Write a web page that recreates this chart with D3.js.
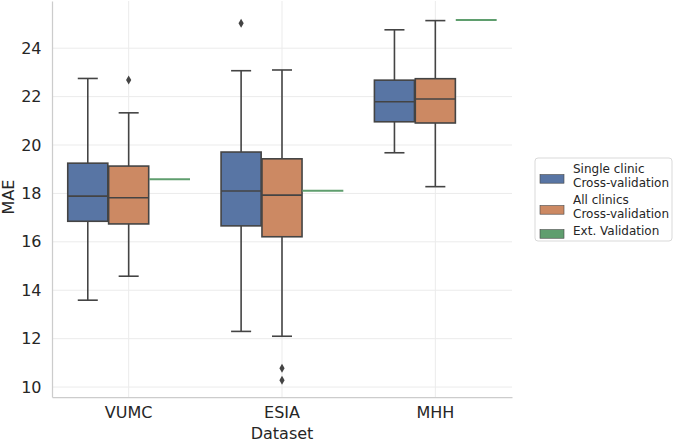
<!DOCTYPE html>
<html>
<head>
<meta charset="utf-8">
<script src="https://cdn.jsdelivr.net/npm/d3@7"></script>
<style>
  body { margin: 0; background: #fff; }
  svg { font-family: "DejaVu Sans", sans-serif; }
</style>
</head>
<body>
<svg id="chart" width="677" height="443"></svg>
<script>
// Data
const datasets = ["VUMC", "ESIA", "MHH"];
const seriesNames = ["Single clinic\nCross-validation", "All clinics\nCross-validation", "Ext. Validation"];
// [lower whisker, Q1, median, Q3, upper whisker]
const singleStats = [[13.59, 16.85, 17.89, 19.25, 22.75], [12.30, 16.66, 18.10, 19.71, 23.07], [19.68, 20.96, 21.79, 22.68, 24.76]];
const singleOutliers = [[], [25.03], []];
const allStats = [[14.58, 16.74, 17.82, 19.13, 21.33], [12.10, 16.21, 17.93, 19.43, 23.10], [18.28, 20.91, 21.90, 22.74, 25.14]];
const allOutliers = [[22.69], [10.78, 10.28], []];
const extValues = [18.59, 18.11, 25.17];
const yTicks = [10, 12, 14, 16, 18, 20, 22, 24];

const colors = ["#5875a4", "#cc8963", "#5f9e6e"];
const edge = "#444444";

const margin = {top: 1, right: 165, bottom: 46, left: 52};
const width = 677 - margin.left - margin.right;
const height = 443 - margin.top - margin.bottom;

const svg = d3.select("#chart")
    .append("g")
    .attr("transform", `translate(${margin.left},${margin.top})`);

const x = d3.scaleBand()
    .domain(datasets)
    .range([0, width])
    .padding(0);

const hue = d3.scaleBand()
    .domain([0, 1, 2])
    .range([x.bandwidth() * 0.1, x.bandwidth() * 0.9])
    .padding(0);

const y = d3.scaleLinear()
    .domain([9.59, 25.95])
    .range([height, 0]);

// Grid
svg.append("g")
    .selectAll("line")
    .data(yTicks)
    .enter()
    .append("line")
    .attr("x1", 0).attr("x2", width)
    .attr("y1", d => y(d)).attr("y2", d => y(d))
    .attr("stroke", "#ebebeb")
    .attr("stroke-width", 1);

svg.append("g")
    .selectAll("line")
    .data(datasets)
    .enter()
    .append("line")
    .attr("x1", d => x(d) + x.bandwidth() / 2).attr("x2", d => x(d) + x.bandwidth() / 2)
    .attr("y1", 0).attr("y2", height)
    .attr("stroke", "#ebebeb")
    .attr("stroke-width", 1);

// Axes
const yAxis = svg.append("g")
    .call(d3.axisLeft(y).tickValues(yTicks).tickSize(0).tickPadding(10.5));
yAxis.select(".domain").attr("stroke", "#cccccc").attr("stroke-width", 1.25);
yAxis.selectAll("text")
    .style("font-size", "16px")
    .style("font-family", "DejaVu Sans")
    .style("fill", "#262626");

const xAxis = svg.append("g")
    .attr("transform", `translate(0,${height})`)
    .call(d3.axisBottom(x).tickSize(0).tickPadding(10));
xAxis.select(".domain").attr("stroke", "#cccccc").attr("stroke-width", 1.25);
xAxis.selectAll("text")
    .style("font-size", "16px")
    .style("font-family", "DejaVu Sans")
    .style("fill", "#262626");

// Boxes
function drawBoxes(stats, outliers, idx) {
    const bw = hue.bandwidth() * 0.98;
    const g = svg.append("g");
    stats.forEach((s, i) => {
        const cx = x(datasets[i]) + hue(idx) + hue.bandwidth() / 2;
        const [lo, q1, med, q3, hi] = s;
        // whiskers
        g.append("line")
            .attr("x1", cx).attr("x2", cx)
            .attr("y1", y(q3)).attr("y2", y(hi))
            .attr("stroke", edge).attr("stroke-width", 1.6);
        g.append("line")
            .attr("x1", cx).attr("x2", cx)
            .attr("y1", y(q1)).attr("y2", y(lo))
            .attr("stroke", edge).attr("stroke-width", 1.6);
        // caps
        [lo, hi].forEach(v => {
            g.append("line")
                .attr("x1", cx - bw / 4).attr("x2", cx + bw / 4)
                .attr("y1", y(v)).attr("y2", y(v))
                .attr("stroke", edge).attr("stroke-width", 1.6);
        });
        g.append("rect")
            .attr("x", cx - bw / 2)
            .attr("y", y(q3))
            .attr("width", bw)
            .attr("height", y(q1) - y(q3))
            .attr("fill", colors[idx])
            .attr("stroke", edge)
            .attr("stroke-width", 1.6);
        g.append("line")
            .attr("x1", cx - bw / 2).attr("x2", cx + bw / 2)
            .attr("y1", y(med)).attr("y2", y(med))
            .attr("stroke", edge).attr("stroke-width", 1.6);
        // outliers (diamonds)
        g.selectAll(null)
            .data(outliers[i])
            .enter()
            .append("path")
            .attr("d", "M0,-4.5L2.6,0L0,4.5L-2.6,0Z")
            .attr("transform", d => `translate(${cx},${y(d)})`)
            .attr("fill", edge);
    });
}

drawBoxes(singleStats, singleOutliers, 0);
drawBoxes(allStats, allOutliers, 1);

// External validation: single value drawn as a line
svg.append("g")
    .selectAll("line")
    .data(extValues)
    .enter()
    .append("line")
    .attr("x1", (d, i) => x(datasets[i]) + hue(2))
    .attr("x2", (d, i) => x(datasets[i]) + hue(2) + hue.bandwidth())
    .attr("y1", d => y(d)).attr("y2", d => y(d))
    .attr("stroke", colors[2])
    .attr("stroke-width", 2);

// Axis labels
svg.append("text")
    .attr("transform", "rotate(-90)")
    .attr("x", -height / 2 + 2)
    .attr("y", -margin.left + 14)
    .attr("text-anchor", "middle")
    .style("font-size", "16px")
    .style("fill", "#262626")
    .text("MAE");

svg.append("text")
    .attr("x", width / 2)
    .attr("y", height + 42)
    .attr("text-anchor", "middle")
    .style("font-size", "16px")
    .style("fill", "#262626")
    .text("Dataset");

// Legend
const legend = d3.select("#chart").append("g")
    .attr("transform", "translate(535,158)");

legend.append("rect")
    .attr("x", 0).attr("y", 0)
    .attr("width", 137).attr("height", 83)
    .attr("rx", 3)
    .attr("fill", "#fff")
    .attr("stroke", "#d9d9d9")
    .attr("stroke-width", 1);

const lineH = 13.9;
let yCursor = 6;
seriesNames.forEach((name, i) => {
    const lines = name.split("\n");
    const rowH = lines.length * lineH;
    const cy = yCursor + rowH / 2 + 1;
    legend.append("rect")
        .attr("x", 5).attr("y", cy - 4.3)
        .attr("width", 24).attr("height", 8.6)
        .attr("fill", colors[i])
        .attr("stroke", edge)
        .attr("stroke-width", 0.6);
    const t = legend.append("text")
        .attr("x", 38)
        .attr("y", yCursor + 9)
        .style("font-size", "12px")
        .style("fill", "#262626");
    lines.forEach((ln, j) => {
        t.append("tspan")
            .attr("x", 38)
            .attr("dy", j === 0 ? 0 : lineH)
            .text(ln);
    });
    yCursor += rowH + 3.2;
});
</script>
</body>
</html>
